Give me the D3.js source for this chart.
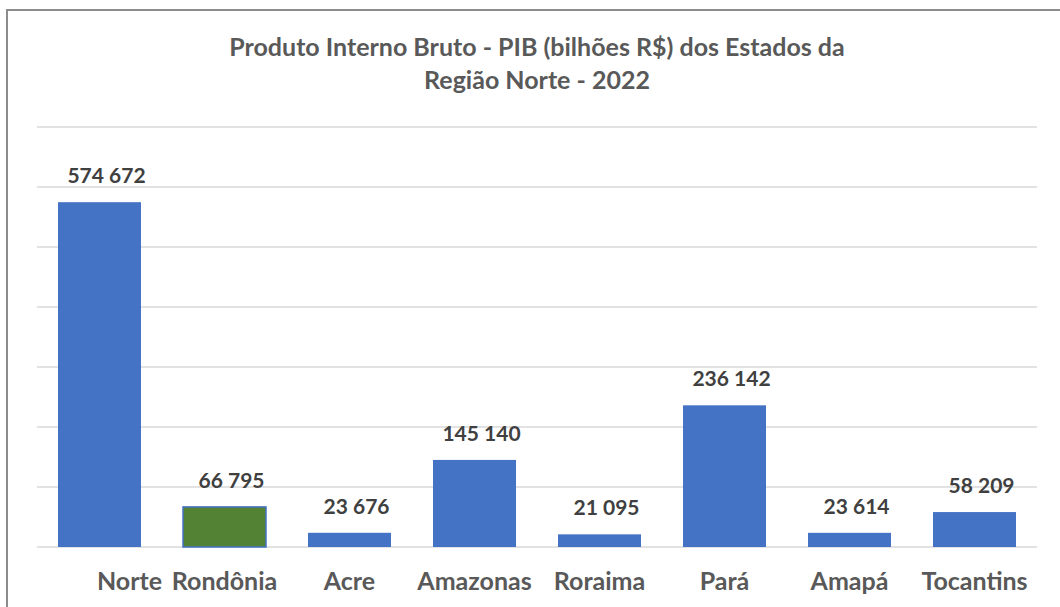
<!DOCTYPE html>
<html>
<head>
<meta charset="utf-8">
<script src="https://cdn.jsdelivr.net/npm/d3@7"></script>
<style>
  html, body { margin: 0; padding: 0; background: #fff; }
  svg { display: block; font-family: Lato, 'Open Sans', sans-serif; }
</style>
</head>
<body>
<div id="chart"></div>
<script>
const titleLines= ['Produto Interno Bruto - PIB (bilhões R$) dos Estados da', 'Região Norte - 2022'];
const states= ['Norte', 'Rondônia', 'Acre', 'Amazonas', 'Roraima', 'Pará', 'Amapá', 'Tocantins'];
const pib= [574672, 66795, 23676, 145140, 21095, 236142, 23614, 58209];
const highlight= ['Rondônia'];
const yTicks= [0, 100000, 200000, 300000, 400000, 500000, 600000, 700000];

const W= 1060;
const H= 607;
const fmt= v => d3.format(',')(v).replace(/,/g, ' ');

const svg= d3.select('#chart')
  .append('svg')
  .attr('width', W)
  .attr('height', H);

// outer frame (only left and top edges show in the crop)
svg.append('rect')
  .attr('x', 7).attr('y', 10)
  .attr('width', W+20).attr('height', H+20)
  .attr('fill', '#fff')
  .attr('stroke', '#8c8c8c')
  .attr('stroke-width', 2);

const x= d3.scaleBand()
  .domain(states)
  .range([37, 1037])
  .paddingInner(0.336)
  .paddingOuter(0.168);

const y= d3.scaleLinear()
  .domain([0, 700000])
  .range([547, 127]);

svg.append('g')
  .selectAll('line')
  .data(yTicks)
  .join('line')
  .attr('x1', 37).attr('x2', 1037)
  .attr('y1', d => y(d)).attr('y2', d => y(d))
  .attr('stroke', '#d9d9d9')
  .attr('stroke-width', 1.5);

const data= states.map((s, i) => ({ name: s, value: pib[i] }));

svg.append('g')
  .selectAll('rect')
  .data(data)
  .join('rect')
  .attr('x', d => x(d.name))
  .attr('y', d => y(d.value))
  .attr('width', x.bandwidth())
  .attr('height', d => y(0)-y(d.value))
  .attr('fill', d => highlight.includes(d.name) ? '#548235' : '#4472c4')
  .attr('stroke', d => highlight.includes(d.name) ? '#4472c4' : 'none')
  .attr('stroke-width', 1.5);

svg.append('g')
  .selectAll('text')
  .data(data)
  .join('text')
  .attr('x', d => x(d.name)+x.bandwidth()/2+7)
  .attr('y', d => y(d.value)-19)
  .attr('text-anchor', 'middle')
  .attr('font-size', 21)
  .attr('font-weight', 700)
  .attr('fill', '#404040')
  .text(d => fmt(d.value));

svg.append('g')
  .selectAll('text')
  .data(states)
  .join('text')
  .attr('x', (d, i) => x(d)+x.bandwidth()/2+(i === 0 ? 30 : 0))
  .attr('y', 590)
  .attr('text-anchor', 'middle')
  .attr('font-size', 25)
  .attr('font-weight', 700)
  .attr('fill', '#595959')
  .text(d => d);

svg.append('g')
  .selectAll('text')
  .data(titleLines)
  .join('text')
  .attr('x', 537)
  .attr('y', (d, i) => 56+i*33)
  .attr('text-anchor', 'middle')
  .attr('font-size', 25)
  .attr('font-weight', 700)
  .attr('fill', '#595959')
  .text(d => d);
</script>
</body>
</html>
